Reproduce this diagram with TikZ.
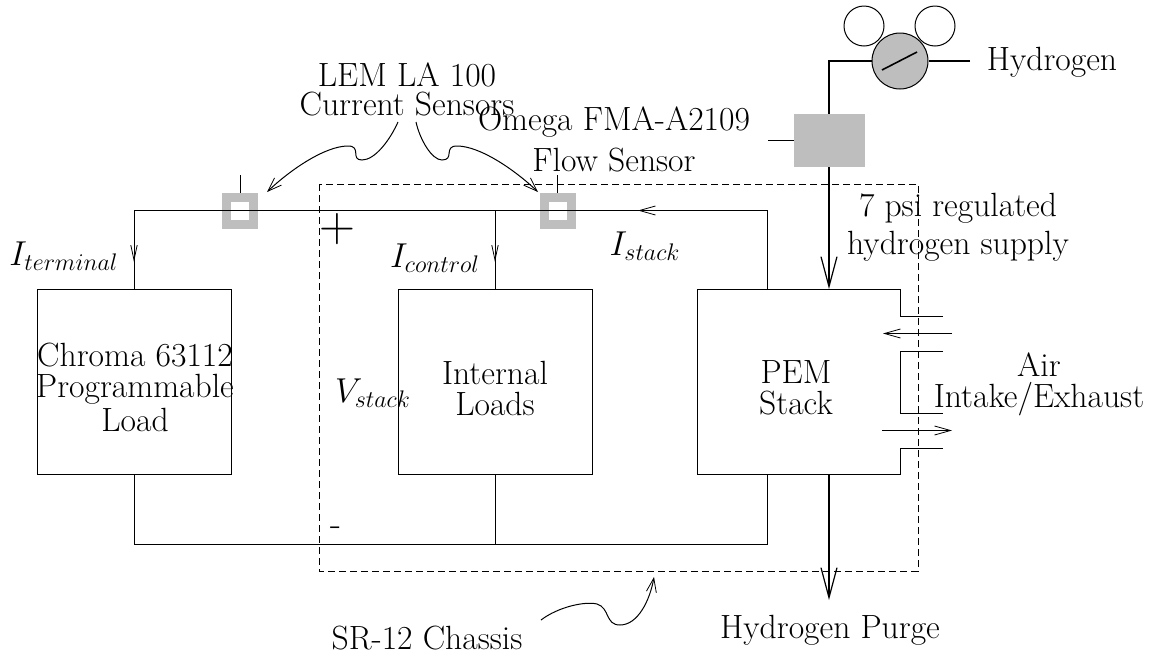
\documentclass[tikz,border=0pt]{standalone}
\usetikzlibrary{arrows.meta}
\tikzset{
  wire/.style={line width=0.5pt},
  pipe/.style={line width=0.8pt},
  tipcurve/.style={-{Straight Barb[length=7pt,width=5pt,line width=0.4pt]}},
  tipsmall/.style={-{Straight Barb[length=7.5pt,width=3.2pt,line width=0.4pt]}},
  tipmed/.style={-{Straight Barb[length=8pt,width=4.5pt,line width=0.4pt]}},
  tipbig/.style={-{Straight Barb[length=15pt,width=8pt,line width=0.6pt]}},
  unitbox/.style={draw,line width=0.5pt,minimum width=97pt,minimum height=92.5pt,inner sep=0pt},
  sensorbox/.style={draw=sensorgray,line width=4.5pt,fill=white,minimum size=13.5pt,inner sep=0pt},
  gaugecircle/.style={circle,draw,line width=0.5pt,minimum size=20pt,inner sep=0pt},
  lbl/.style={font=\fontsize{16.8}{15.5}\selectfont,align=center,inner sep=0pt},
}
\definecolor{sensorgray}{gray}{0.745}
\begin{document}
\begin{tikzpicture}[x=0.5pt,y=-0.5pt,line cap=butt,line join=miter]
\useasboundingbox (0,0) rectangle (1164,654);

% the three boxes
\node[unitbox] (load) at (134,381.5) {};
\node[unitbox] (internal) at (495,381.5) {};
\coordinate (P1) at (697,289.5);
\coordinate (P2) at (900,289.5);
\coordinate (P3) at (900,316);
\coordinate (P4) at (943,316);
\coordinate (P5) at (943,351);
\coordinate (P6) at (900,351);
\coordinate (P7) at (900,413);
\coordinate (P8) at (943,413);
\coordinate (P9) at (943,448);
\coordinate (P10) at (900,448);
\coordinate (P11) at (900,474);
\coordinate (P12) at (697,474);
\draw[wire] (P4)--(P3)--(P2)--(P1)--(P12)--(P11)--(P10)--(P9);
\draw[wire] (P5)--(P6)--(P7)--(P8);

% chassis outline
\coordinate (C1) at (319,184);
\coordinate (C2) at (918,571);
\draw[wire,dash pattern=on 3.7pt off 1.8pt] (C1) rectangle (C2);

% current sensors
\node[sensorbox] (sensorA) at (240,211) {};
\node[sensorbox] (sensorB) at (558,211) {};
\coordinate (stubA) at (240,175);
\coordinate (stubB) at (557,175);
\draw[wire] (stubA)--(sensorA.north);
\draw[wire] (stubB)--(sensorB.north-|stubB);

% wiring
\coordinate (TL) at (134,210.5);
\coordinate (TM) at (495,210.5);
\coordinate (TR) at (767,210.5);
\coordinate (BL) at (134,544.5);
\coordinate (BM) at (495,544.5);
\coordinate (BR) at (767,544.5);
\coordinate (tipL) at (134,262);
\coordinate (tipM) at (495,262);
\coordinate (tailT) at (715,210.5);
\coordinate (tipT) at (638,210.5);
\coordinate (endBM) at (530,544.5);
\draw[wire] (load.north)--(TL)--(TR)--(TR|-P1);
\draw[wire] (load.south)--(BL)--(BR)--(BR|-P12);
\draw[wire] (internal.north)--(TM);
\draw[wire] (internal.south)--(BM);
\draw[wire,line width=0.8pt] (BM)--(endBM);
\draw[wire,tipsmall] (TL)--(tipL);
\draw[wire,tipsmall] (TM)--(tipM);
\draw[wire,line width=0.7pt,tipmed] (tailT)--(tipT);

% hydrogen regulator
\node[gaugecircle] (gaugeA) at (864,26) {};
\node[gaugecircle] (gaugeB) at (935,26) {};
\node[circle,draw,line width=0.5pt,fill=sensorgray,minimum size=28pt,inner sep=0pt] (regulator) at (900,61) {};
\coordinate (N1) at (882,70);
\coordinate (N2) at (917,52);
\draw[pipe] (N1)--(N2);
\coordinate (H1) at (970,61);
\coordinate (H2) at (829,61);
\draw[pipe] (H1)--(regulator.east);
\node[fill=sensorgray,minimum width=35.5pt,minimum height=26.5pt,inner sep=0pt] (flow) at (829.5,140.5) {};
\coordinate (stubF) at (768,140.5);
\draw[wire] (stubF)--(flow.west);
\draw[pipe] (regulator.west)--(H2)--(flow.north-|H2);
\coordinate (feed) at (829,289);
\coordinate (purge) at (829,600);
\draw[pipe,tipbig] (flow.south-|feed)--(feed);
\draw[pipe,tipbig] (P12-|feed)--(purge);

% air arrows
\coordinate (A1) at (952,333.5);
\coordinate (A2) at (883,333.5);
\coordinate (A3) at (882,430.5);
\coordinate (A4) at (952,430.5);
\draw[wire,tipmed] (A1)--(A2);
\draw[wire,tipmed] (A3)--(A4);

% pointer curves
\coordinate (S0) at (398,122);
\coordinate (S1) at (267,192);
\coordinate (S2) at (416,122);
\coordinate (S3) at (538,192);
\draw[wire,tipcurve] (S0) .. controls (390,140) and (375,160) .. (362,160)
  .. controls (350,160) and (362,146) .. (348,146)
  .. controls (325,146) and (290,170) .. (S1);
\draw[wire,tipcurve] (S2) .. controls (420,140) and (432,160) .. (442,160)
  .. controls (455,160) and (443,146) .. (457,146)
  .. controls (480,146) and (515,170) .. (S3);
\coordinate (R0) at (541,620);
\coordinate (R1) at (654,577);
\draw[wire,tipcurve] (R0) .. controls (558,607) and (585,601) .. (597,604)
  .. controls (610,608) and (605,625) .. (620,625)
  .. controls (638,625) and (650,600) .. (R1);

% labels
\node[lbl] (lemlabel) at (407,89.5) {LEM LA 100\\[-1pt]Current Sensors};
\node[lbl] (omegalabel) at (614,122) {Omega FMA-A2109};
\node[lbl] (flowlabel) at (614,160) {Flow Sensor};
\node[lbl] (hydrogen) at (1052,62) {Hydrogen};
\node[lbl] (supply) at (958,227) {7 psi regulated\\[3.5pt]hydrogen supply};
\node[lbl] (air) at (1039,384) {Air\\Intake/Exhaust};
\node[lbl] (pem) at (796,388) {PEM\\Stack};
\node[lbl] (loads) at (495,388) {Internal\\Loads};
\node[lbl] (chroma) at (135,387) {Chroma 63112\\Programmable\\[1.5pt]Load};
\node[lbl] (iterm) at (64,256) {$I_{terminal}$};
\node[lbl] (icontrol) at (435,258) {$I_{control}$};
\node[lbl] (istack) at (645,246) {$I_{stack}$};
\node[lbl] (vstack) at (373,393) {$V_{stack}$};
\node[lbl,font=\fontsize{26}{26}\selectfont] (plus) at (337,229) {$+$};
\node[lbl,font=\fontsize{18}{18}\selectfont] (minus) at (336,531) {-};
\node[lbl] (chassis) at (427,638) {SR-12 Chassis};
\node[lbl] (purgelabel) at (830,630) {Hydrogen Purge};

\end{tikzpicture}
\end{document}
